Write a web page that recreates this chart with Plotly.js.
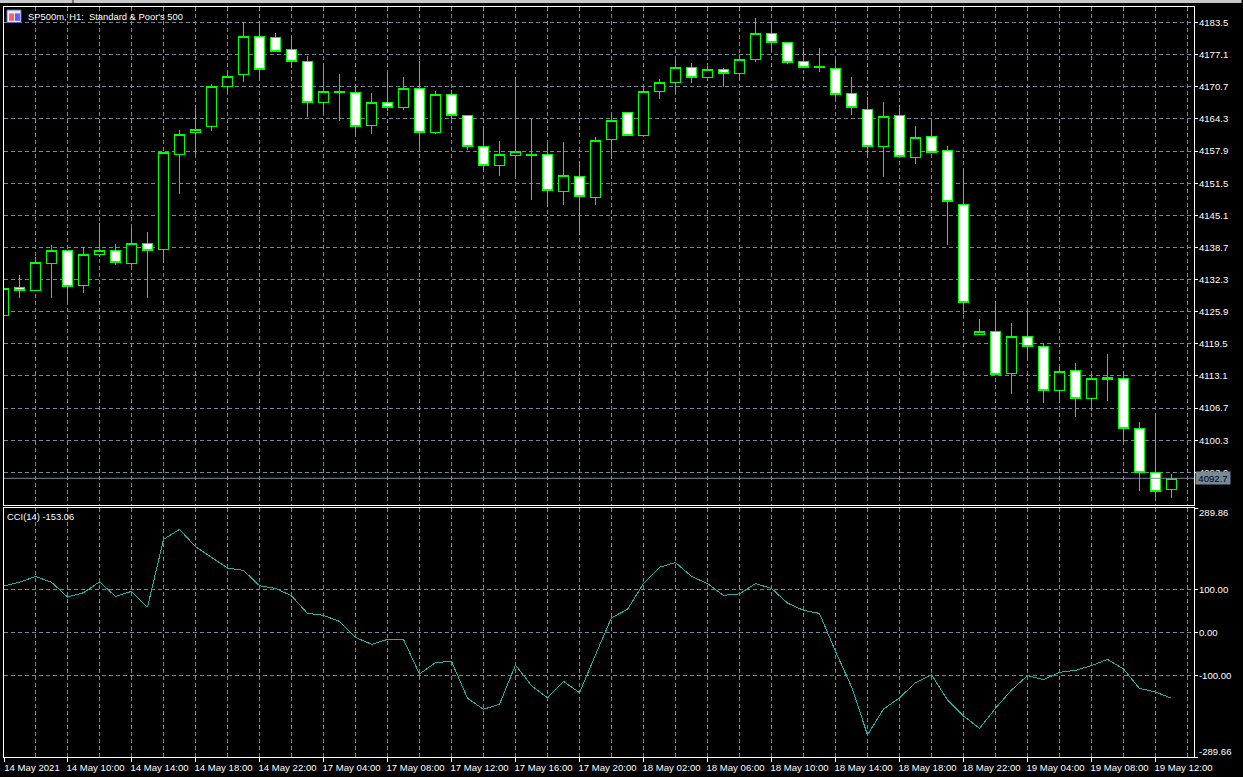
<!DOCTYPE html>
<html>
<head>
<meta charset="utf-8">
<script src="https://cdn.plot.ly/plotly-3.0.1.min.js"></script>
<style>html,body{margin:0;padding:0;background:#000;overflow:hidden}#chart{width:1243px;height:777px}
#chart .boxlayer path,#chart .js-line{shape-rendering:crispEdges}</style>
</head>
<body>
<div id="chart"></div>
<script>
const barIndex = Array.from({length:74},(_, i)=>i);
const openPrices = [4125.2,4130.7,4130.1,4135.5,4138.1,4131.1,4137.3,4138.1,4135.5,4139.5,4138.3,4157.2,4161.6,4162.8,4170.7,4173.1,4180.7,4180.5,4178.1,4175.7,4167.6,4169.6,4169.6,4163.0,4167.6,4166.6,4170.4,4161.6,4169.2,4165.0,4158.8,4155.0,4157.0,4157.0,4157.2,4149.8,4152.8,4148.6,4160.2,4165.6,4161.0,4169.8,4171.5,4174.5,4172.5,4174.1,4173.3,4176.1,4181.3,4179.5,4175.7,4174.5,4174.3,4169.4,4166.2,4158.8,4165.0,4156.6,4160.8,4158.0,4147.2,4121.3,4121.9,4113.6,4120.9,4119.0,4110.2,4114.2,4108.6,4112.8,4112.6,4102.6,4093.9,4090.5];
const highPrices = [4130.6,4133.2,4136.8,4139.2,4138.2,4138.7,4143.6,4139.4,4142.6,4141.8,4157.7,4162.1,4166.5,4171.3,4173.8,4183.6,4183.2,4181.4,4180.6,4176.8,4174.8,4173.2,4171.3,4169.5,4173.6,4172.6,4175.8,4169.9,4170.1,4165.0,4162.9,4159.9,4172.4,4164.3,4159.3,4159.7,4155.7,4160.7,4165.3,4165.6,4170.5,4172.2,4176.0,4175.4,4174.8,4174.4,4177.0,4184.4,4183.6,4179.5,4178.4,4178.4,4176.0,4172.6,4168.7,4167.7,4166.5,4162.9,4164.1,4158.9,4154.5,4124.4,4127.2,4123.6,4126.0,4119.5,4115.1,4115.7,4113.1,4117.5,4113.9,4103.9,4105.5,4093.6];
const lowPrices = [4125.2,4128.6,4130.1,4128.6,4127.8,4129.6,4136.8,4135.2,4134.8,4128.6,4135.6,4149.3,4157.3,4161.9,4169.5,4171.6,4172.0,4177.7,4174.4,4164.7,4165.7,4163.9,4161.3,4161.3,4165.9,4166.1,4158.7,4161.3,4164.3,4158.1,4153.9,4152.9,4152.7,4148.1,4146.7,4147.1,4142.0,4147.1,4156.3,4161.0,4161.0,4168.3,4169.5,4171.4,4172.0,4170.7,4172.0,4175.6,4177.8,4175.2,4174.5,4173.6,4168.5,4165.1,4156.5,4152.7,4156.8,4155.3,4157.6,4139.2,4125.4,4121.3,4113.4,4109.5,4116.5,4107.7,4108.3,4104.9,4106.1,4108.1,4099.9,4090.2,4089.0,4088.8];
const closePrices = [4130.6,4130.1,4135.7,4138.1,4130.9,4137.3,4138.1,4135.7,4139.5,4138.1,4157.6,4161.2,4162.2,4170.7,4172.7,4180.7,4174.1,4177.7,4175.7,4167.6,4169.8,4169.8,4162.8,4167.6,4166.6,4170.4,4161.6,4169.2,4165.0,4158.8,4155.0,4157.2,4157.8,4157.2,4150.0,4153.0,4148.8,4160.0,4164.0,4161.0,4169.8,4171.5,4174.5,4172.5,4174.1,4173.3,4176.1,4181.3,4179.5,4175.5,4174.5,4174.7,4169.2,4166.6,4158.8,4164.8,4156.8,4160.6,4157.6,4147.8,4127.7,4121.9,4113.4,4120.9,4119.0,4110.2,4114.0,4108.6,4112.6,4112.4,4102.6,4093.9,4090.1,4092.7];
const cciValues = [108,117,130.5,117,82.6,92.6,118,84,95.8,59,216.7,240,200,174.8,150,144.6,108.9,102.7,85.6,44.6,40,26,-11.2,-27.5,-15.9,-15.9,-96.5,-70,-67,-153,-178.6,-167,-75.6,-123.7,-152,-113.6,-140,-52,34.5,54,114,152,163,130.7,114,86.5,90,114,102.7,68.6,51.6,44.6,-44,-126,-238.4,-178,-152,-116.7,-98,-157,-194,-222.9,-176.4,-133.7,-100.4,-109.7,-92.7,-88,-77,-62.4,-85,-130,-138.4,-153.06];
const dateTickVals = [0,4,8,12,16,20,24,28,32,36,40,44,48,52,56,60,64,68,72];
const dateTickText = ['14 May 2021','14 May 10:00','14 May 14:00','14 May 18:00','14 May 22:00','17 May 04:00','17 May 08:00','17 May 12:00','17 May 16:00','17 May 20:00','18 May 02:00','18 May 06:00','18 May 10:00','18 May 14:00','18 May 18:00','18 May 22:00','19 May 04:00','19 May 08:00','19 May 12:00'];
const gridVals = [2,4,6,8,10,12,14,16,18,20,22,24,26,28,30,32,34,36,38,40,42,44,46,48,50,52,54,56,58,60,62,64,66,68,70,72,74];
const priceTicks = [4183.5,4177.1,4170.7,4164.3,4157.9,4151.5,4145.1,4138.7,4132.3,4125.9,4119.5,4113.1,4106.7,4100.3,4093.9];
const priceTickText = ['4183.5','4177.1','4170.7','4164.3','4157.9','4151.5','4145.1','4138.7','4132.3','4125.9','4119.5','4113.1','4106.7','4100.3','4093.9'];
const cciTicks = [100,0,-100];
const cciTickText = ['100.00','0.00','-100.00'];
const lastPrice = 4092.7;
const cciMax = 289.86, cciMin = -289.66;
const priceRange = [4087.38,4186.59];
const barRange = [0.03125,74.40625];

const FONT = 'Liberation Sans, Arial, sans-serif';
const GREEN = '#00ff00', GRID = '#778899', WHITE = '#ffffff';
const DASH = '4px,3px';

const candles = {
  type:'candlestick', x:barIndex, open:openPrices, high:highPrices, low:lowPrices, close:closePrices,
  xaxis:'x', yaxis:'y', whiskerwidth:0, hoverinfo:'skip', showlegend:false,
  increasing:{line:{color:GREEN,width:1},fillcolor:'#000000'},
  decreasing:{line:{color:GREEN,width:1},fillcolor:'#ffffff'}
};
const cci = {
  type:'scatter', mode:'lines', x:barIndex, y:cciValues, xaxis:'x2', yaxis:'y2',
  line:{color:'#20B2AA',width:1}, hoverinfo:'skip', showlegend:false
};

const gridCommon = {showgrid:true,gridcolor:GRID,griddash:DASH,gridwidth:1,zeroline:false,
  showline:true,linecolor:WHITE,linewidth:1,mirror:true,fixedrange:true};

const layout = {
  width:1243,height:777,
  paper_bgcolor:'#000000',plot_bgcolor:'#000000',
  margin:{l:4,r:49,t:7,b:20,pad:0},
  showlegend:false,
  boxgap:0.1071,
  font:{family:FONT,size:9.6,color:WHITE},
  xaxis:Object.assign({},gridCommon,{domain:[0,1],anchor:'y',range:barRange,tickmode:'array',tickvals:gridVals,
    showticklabels:false,ticks:'',rangeslider:{visible:false}}),
  yaxis:Object.assign({},gridCommon,{domain:[0.336,1],anchor:'x',side:'right',range:priceRange,tickmode:'array',
    tickvals:priceTicks,ticktext:priceTickText,ticks:'outside',ticklen:3,tickcolor:WHITE,tickwidth:1,ticklabelstandoff:-1,
    tickfont:{family:FONT,size:9.6,color:WHITE}}),
  xaxis2:Object.assign({},gridCommon,{domain:[0,1],anchor:'y2',range:barRange,tickmode:'array',
    tickvals:dateTickVals.map(v=>Math.max(v,barRange[0])),ticktext:dateTickText,ticks:'outside',ticklen:4,tickcolor:WHITE,tickwidth:1,tickangle:0,
    ticklabelshift:28,ticklabelstandoff:-3,ticklabeloverflow:'allow',showgrid:false,
    minor:{tickmode:'array',tickvals:gridVals,showgrid:true,gridcolor:GRID,griddash:DASH,gridwidth:1,ticks:''},
    tickfont:{family:FONT,size:9.6,color:WHITE}}),
  yaxis2:Object.assign({},gridCommon,{domain:[0,0.332],anchor:'x2',side:'right',range:[cciMin,cciMax],tickmode:'array',
    tickvals:cciTicks.concat([cciMax,cciMin]),ticktext:cciTickText.concat(['','']),ticks:'outside',ticklen:3,tickcolor:WHITE,tickwidth:1,ticklabelstandoff:-1,
    tickfont:{family:FONT,size:9.6,color:WHITE}}),
  shapes:[
    {type:'line',xref:'x',yref:'y',x0:barRange[0],x1:barRange[1],y0:lastPrice,y1:lastPrice,line:{color:GRID,width:1}},
    {type:'rect',xref:'paper',yref:'paper',x0:-0.0034,x1:1.04,y0:1.00933,y1:1.00533,fillcolor:'#c8c8c8',line:{width:0},layer:'above'},
    {type:'rect',xref:'paper',yref:'paper',x0:0.0571,x1:0.0588,y0:1.00933,y1:1.00533,fillcolor:'#707070',line:{width:0},layer:'above'},
    {type:'rect',xref:'paper',yref:'paper',x0:0.0025,x1:0.0143,y0:0.996,y1:0.9793,fillcolor:'#f0f0f8',line:{color:'#6060c8',width:1},layer:'above'},
    {type:'rect',xref:'paper',yref:'paper',x0:0.0042,x1:0.0084,y0:0.9915,y1:0.9815,fillcolor:'#ff6060',line:{width:0},layer:'above'},
    {type:'rect',xref:'paper',yref:'paper',x0:0.0092,x1:0.0134,y0:0.9915,y1:0.9815,fillcolor:'#6060ff',line:{width:0},layer:'above'}
  ],
  annotations:[
    {xref:'paper',yref:'paper',x:0.0188,y:0.988,xanchor:'left',yanchor:'middle',showarrow:false,
      text:"SP500m, H1:  Standard &amp; Poor's 500",font:{family:FONT,size:9.4,color:WHITE}},
    {xref:'paper',yref:'paper',x:0.0011,y:0.3213,xanchor:'left',yanchor:'middle',showarrow:false,
      text:'CCI(14) -153.06',font:{family:FONT,size:9.4,color:WHITE}},
    {xref:'x',yref:'y',x:barRange[1],xshift:19,y:lastPrice,xanchor:'center',yanchor:'middle',showarrow:false,
      text:String(lastPrice),bgcolor:GRID,borderpad:1,width:32,height:10,font:{family:FONT,size:9.6,color:'#000000'}},
    {xref:'paper',yref:'paper',x:1.0026,y:0.326,xanchor:'left',yanchor:'middle',showarrow:false,
      text:'289.86',font:{family:FONT,size:9.6,color:WHITE}},
    {xref:'paper',yref:'paper',x:1.0026,y:0.0071,xanchor:'left',yanchor:'middle',showarrow:false,
      text:'-289.66',font:{family:FONT,size:9.6,color:WHITE}}
  ]
};
Plotly.newPlot('chart',[candles,cci],layout,{displayModeBar:false,staticPlot:true});
</script>
</body>
</html>
